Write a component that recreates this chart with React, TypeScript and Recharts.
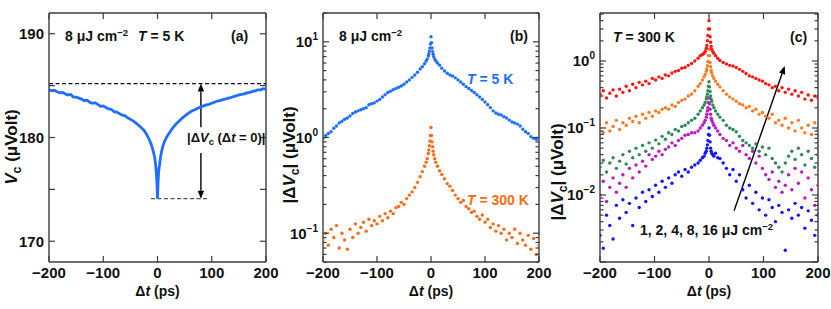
import React from 'react'
import {
  ComposedChart,
  ScatterChart,
  Line,
  Scatter,
  XAxis,
  YAxis,
  ReferenceLine,
} from 'recharts'

const FONT = '"Liberation Sans", Arial, Helvetica, sans-serif'
const FRAME = '#3c3c3c'

const BLUE = '#1f6fff'
const ORANGE = '#ff6a14'
const C_RED = '#ff1414'
const C_ORANGE = '#ff7a22'
const C_GREEN = '#2e8b57'
const C_MAGENTA = '#c316c3'
const C_BLUE = '#1414ff'

// (a) Vc vs delay, 8 uJ cm-2, T = 5 K
const aTimes = [
  -200, -195, -190, -185, -180, -175, -170, -165, -160, -155, -150, -145, -140, -135, -130, -125, -120,
  -115, -110, -105, -100, -95, -90, -85, -80, -75, -70, -65, -60, -55, -50, -45, -40, -35, -30, -25, -20,
  -16, -12, -9, -7, -5, -4, -3, -2, -1, 0, 1, 2, 3, 4, 5, 7, 9, 12, 16,
  20, 25, 30, 35, 40, 45, 50, 55, 60, 65, 70, 75, 80, 85, 90, 95, 100, 105, 110, 115, 120, 125, 130,
  135, 140, 145, 150, 155, 160, 165, 170, 175, 180, 185, 190, 195, 200,
]
const aVc = [
  184.6, 184.5, 184.55, 184.4, 184.3, 184.35, 184.2, 184.1, 184.15, 183.9, 183.9, 183.8, 183.7, 183.55,
  183.6, 183.4, 183.3, 183.35, 183.2, 183.0, 183.05, 182.9, 182.75, 182.7, 182.5, 182.45, 182.3, 182.15,
  182.1, 181.9, 181.75, 181.6, 181.4, 181.2, 180.95, 180.7, 180.3,
  179.9, 179.4, 178.9, 178.5, 178.0, 177.6, 177.1, 176.5, 175.6, 174.1, 175.7, 176.6, 177.1, 177.4, 177.9,
  178.5, 179.0, 179.5, 179.95,
  180.3, 180.7, 181.05, 181.35, 181.6, 181.85, 182.05, 182.25, 182.45, 182.6, 182.7, 182.85, 182.95,
  183.05, 183.15, 183.2, 183.3, 183.4, 183.5, 183.55, 183.65, 183.7, 183.8, 183.85, 183.95, 184.0, 184.1,
  184.15, 184.2, 184.3, 184.35, 184.45, 184.5, 184.6, 184.6, 184.7, 184.65,
]

// (b) |dVc| at 8 uJ cm-2, T = 5 K and 300 K
const bTimes = [
  -200, -195, -190, -185, -180, -175, -170, -165, -160, -155, -150, -145, -140, -135, -130, -125, -120,
  -115, -110, -105, -100, -95, -90, -85, -80, -75, -70, -65, -60, -55, -50, -45, -40, -35, -30, -25, -20,
  -16, -12, -9, -7, -5, -4, -3, -2, -1, 0, 1, 2, 3, 4, 5, 7, 9, 12, 16,
  20, 25, 30, 35, 40, 45, 50, 55, 60, 65, 70, 75, 80, 85, 90, 95, 100, 105, 110, 115, 120, 125, 130,
  135, 140, 145, 150, 155, 160, 165, 170, 175, 180, 185, 190, 195, 200,
]
const b5K = [
  0.98, 1.05, 1.1, 1.15, 1.25, 1.32, 1.42, 1.48, 1.55, 1.6, 1.68, 1.78, 1.85, 1.9, 1.95, 2.0, 2.05, 2.2,
  2.25, 2.3, 2.4, 2.5, 2.65, 2.8, 2.95, 3.05, 3.15, 3.25, 3.35, 3.45, 3.6, 3.8, 4.0, 4.25, 4.5, 4.8, 5.2,
  5.5, 5.9, 6.3, 6.6, 7.1, 7.5, 8.0, 8.6, 9.5, 11.3, 9.8, 8.6, 7.9, 7.4, 7.0, 6.6, 6.3, 6.0, 5.7,
  5.3, 4.95, 4.7, 4.5, 4.4, 4.2, 4.0, 3.8, 3.6, 3.4, 3.25, 3.1, 2.95, 2.8, 2.65, 2.5, 2.35, 2.2, 2.05,
  1.9, 1.8, 1.75, 1.72, 1.65, 1.6, 1.52, 1.45, 1.42, 1.38, 1.32, 1.22, 1.15, 1.1, 1.02, 0.98, 0.96, 1.0,
]
const b300K = [
  0.085, 0.1, 0.075, 0.11, 0.09, 0.12, 0.07, 0.1, 0.085, 0.068, 0.11, 0.09, 0.125, 0.1, 0.115, 0.13,
  0.105, 0.14, 0.12, 0.135, 0.125, 0.15, 0.135, 0.16, 0.145, 0.17, 0.16, 0.185, 0.19, 0.21, 0.2, 0.23,
  0.25, 0.27, 0.3, 0.34, 0.39,
  0.44, 0.5, 0.55, 0.6, 0.68, 0.74, 0.82, 0.92, 1.05, 1.27, 1.05, 0.9, 0.8, 0.72, 0.66, 0.6, 0.55, 0.5, 0.45,
  0.41, 0.37, 0.33, 0.31, 0.28, 0.25, 0.23, 0.21, 0.22, 0.19, 0.18, 0.165, 0.17, 0.15, 0.14, 0.155, 0.13,
  0.14, 0.115, 0.125, 0.105, 0.12, 0.1, 0.11, 0.085, 0.1, 0.09, 0.11, 0.078, 0.1, 0.085, 0.075, 0.095,
  0.068, 0.088, 0.06, 0.075,
]

// (c) |dVc| at T = 300 K for 16, 8, 4, 2, 1 uJ cm-2
const cTimes = [
  -200, -194, -188, -182, -176, -170, -164, -158, -152, -146, -140, -134, -128, -122, -116, -110, -104,
  -98, -92, -86, -80, -74, -68, -62, -56, -50, -44, -38, -32, -26, -20,
  -16, -12, -9, -7, -5, -4, -3, -2, -1, 0, 1, 2, 3, 4, 5, 7, 9, 12, 16,
  20, 26, 32, 38, 44, 50, 56, 62, 68, 74, 80, 86, 92, 98, 104, 110, 116, 122, 128, 134, 140, 146, 152,
  158, 164, 170, 176, 182, 188, 194, 200,
]
const c16 = [
  0.32, 0.36, 0.28, 0.33, 0.37, 0.3, 0.38, 0.34, 0.42, 0.36, 0.45, 0.4, 0.48, 0.44, 0.5, 0.46, 0.55, 0.52,
  0.58, 0.55, 0.62, 0.6, 0.66, 0.7, 0.72, 0.78, 0.8, 0.86, 0.92, 1.0, 1.1,
  1.2, 1.25, 1.3, 1.4, 1.55, 1.7, 2.0, 2.4, 3.0, 4.0, 3.0, 2.3, 1.9, 1.65, 1.5, 1.38, 1.3, 1.2, 1.1,
  1.02, 0.95, 0.9, 0.86, 0.84, 0.8, 0.75, 0.7, 0.65, 0.6, 0.58, 0.55, 0.52, 0.5, 0.46, 0.44, 0.4, 0.42,
  0.36, 0.4, 0.34, 0.38, 0.32, 0.36, 0.3, 0.34, 0.27, 0.31, 0.26, 0.3, 0.28,
]
const c8 = [
  0.1, 0.085, 0.12, 0.09, 0.105, 0.13, 0.095, 0.12, 0.11, 0.14, 0.125, 0.15, 0.12, 0.16, 0.14, 0.17, 0.15,
  0.18, 0.17, 0.19, 0.2, 0.19, 0.22, 0.21, 0.24, 0.26, 0.27, 0.3, 0.32, 0.36, 0.42,
  0.46, 0.52, 0.58, 0.63, 0.7, 0.76, 0.85, 0.98, 1.2, 1.5, 1.2, 0.95, 0.82, 0.72, 0.66, 0.6, 0.55, 0.5, 0.45,
  0.41, 0.36, 0.32, 0.29, 0.27, 0.25, 0.23, 0.22, 0.2, 0.21, 0.18, 0.19, 0.16, 0.17, 0.15, 0.14, 0.16,
  0.12, 0.13, 0.11, 0.14, 0.1, 0.12, 0.09, 0.13, 0.1, 0.085, 0.11, 0.08, 0.12, 0.095,
]
const c4 = [
  0.026, 0.033, 0.022, 0.03, 0.036, 0.025, 0.032, 0.04, 0.029, 0.045, 0.036, 0.05, 0.04, 0.055, 0.045,
  0.06, 0.05, 0.066, 0.058, 0.075, 0.068, 0.085, 0.08, 0.095, 0.09, 0.105, 0.11, 0.12, 0.13, 0.14, 0.16,
  0.18, 0.2, 0.22, 0.24, 0.27, 0.29, 0.32, 0.36, 0.42, 0.49, 0.41, 0.35, 0.3, 0.27, 0.25, 0.22, 0.2, 0.18, 0.16,
  0.145, 0.13, 0.11, 0.1, 0.095, 0.088, 0.075, 0.065, 0.06, 0.055, 0.05, 0.058, 0.045, 0.052, 0.04, 0.05,
  0.035, 0.03, 0.026, 0.022, 0.03, 0.038, 0.045, 0.034, 0.05, 0.04, 0.028, 0.045, 0.035, 0.026, 0.04,
]
const c2 = [
  0.01, 0.016, 0.008, 0.013, 0.018, 0.011, 0.015, 0.02, 0.013, 0.025, 0.018, 0.028, 0.022, 0.032, 0.027,
  0.04, 0.034, 0.038, 0.045, 0.04, 0.048, 0.052, 0.06, 0.055, 0.065, 0.07, 0.078, 0.08, 0.085, 0.085, 0.09,
  0.1, 0.11, 0.12, 0.13, 0.145, 0.16, 0.18, 0.2, 0.24, 0.28, 0.23, 0.19, 0.16, 0.14, 0.13, 0.12, 0.11, 0.1, 0.09,
  0.08, 0.07, 0.065, 0.055, 0.06, 0.05, 0.045, 0.055, 0.04, 0.035, 0.045, 0.03, 0.038, 0.025, 0.02, 0.017,
  0.022, 0.013, 0.016, 0.011, 0.014, 0.02, 0.012, 0.025, 0.015, 0.022, 0.009, 0.018, 0.012, 0.007, 0.014,
]
const c1 = [
  0.0025, 0.0016, 0.005, 0.0035, 0.0022, 0.007, 0.0045, 0.0085, 0.0055, 0.0075, 0.0035, 0.009, 0.0065,
  0.011, 0.008, 0.012, 0.0095, 0.014, 0.011, 0.016, 0.013, 0.018, 0.015, 0.02, 0.022, 0.019, 0.024, 0.022,
  0.026, 0.028, 0.03,
  0.033, 0.036, 0.038, 0.042, 0.045, 0.05, 0.056, 0.065, 0.08, 0.1, 0.078, 0.062, 0.05, 0.045, 0.042, 0.04,
  0.038, 0.042, 0.036,
  0.035, 0.03, 0.025, 0.02, 0.024, 0.016, 0.02, 0.012, 0.009, 0.014, 0.0075, 0.011, 0.006, 0.009, 0.005,
  0.0085, 0.0065, 0.004, 0.007, 0.0055, 0.0015, 0.006, 0.0045, 0.0075, 0.005, 0.0065, 0.0032, 0.0058,
  0.0042, 0.0025, 0.005,
]

const xTicks = [-200, -100, 0, 100, 200]
const aYTicks = [170, 175, 180, 185, 190]
const aYLabels = [170, 180, 190]

const PLOT_H = 249

const pts = (ts: number[], vs: number[]) => ts.map((t, i) => ({ t, v: vs[i] }))

const logTicks = (lo: number, hi: number) => {
  const out: number[] = []
  for (let e = -4; e <= 2; e++) {
    for (let m = 1; m <= 9; m++) {
      const v = m * Math.pow(10, e)
      if (v >= lo * 0.999 && v <= hi * 1.001) out.push(v)
    }
  }
  return out
}
const isDecade = (v: number) => Math.abs(Math.log10(v) - Math.round(Math.log10(v))) < 1e-6

const textStyle = { fontFamily: FONT, fontWeight: 700, fontSize: 15, fill: '#111' }

// ticks point inward; the mirrored tick on the opposite side of the box is drawn too
const leftTick =
  (plotW: number, isMajor: (v: number) => boolean, label: (v: number) => React.ReactNode) => (p: any) => {
    const x = Number(p.x)
    const y = Number(p.y)
    const v = p.payload.value as number
    const len = isMajor(v) ? 6 : 3.5
    const lab = label(v)
    return (
      <g>
        <line x1={x} y1={y} x2={x + len} y2={y} stroke={FRAME} strokeWidth={1.2} />
        <line x1={x + plotW} y1={y} x2={x + plotW - len} y2={y} stroke={FRAME} strokeWidth={1.2} />
        {lab != null && (
          <text x={x - 5} y={y} dy="0.36em" textAnchor="end" {...textStyle}>
            {lab}
          </text>
        )}
      </g>
    )
  }

const bottomTick = (p: any) => {
  const x = Number(p.x)
  const y = Number(p.y)
  const v = p.payload.value as number
  return (
    <g>
      <line x1={x} y1={y} x2={x} y2={y - 6} stroke={FRAME} strokeWidth={1.2} />
      <line x1={x} y1={y - PLOT_H} x2={x} y2={y - PLOT_H + 6} stroke={FRAME} strokeWidth={1.2} />
      <text x={x} y={y + 5} dy="0.76em" textAnchor="middle" {...textStyle}>
        {v < 0 ? `\u2212${-v}` : `${v}`}
      </text>
    </g>
  )
}

const fmtLog = (v: number) => {
  if (!isDecade(v)) return null
  const e = Math.round(Math.log10(v))
  return (
    <>
      <tspan>10</tspan>
      <tspan dy={-7} fontSize={10}>
        {e < 0 ? `\u2212${-e}` : `${e}`}
      </tspan>
    </>
  )
}

const axisLine = { stroke: FRAME, strokeWidth: 1.4 }

const arrowShape = (p: any) => {
  const { x1, y1, x2, y2 } = p
  const a = Math.atan2(y2 - y1, x2 - x1)
  const L = 8
  const W = 3.2
  const bx = x2 - L * Math.cos(a)
  const by = y2 - L * Math.sin(a)
  const head = `${x2},${y2} ${bx - W * Math.sin(a)},${by + W * Math.cos(a)} ${bx + W * Math.sin(a)},${by - W * Math.cos(a)}`
  return (
    <g>
      <line x1={x1} y1={y1} x2={bx} y2={by} stroke="#000" strokeWidth={1.4} />
      <polygon points={head} fill="#000" />
    </g>
  )
}

const dot = (color: string) => (p: any) => <circle cx={p.cx} cy={p.cy} r={1.7} fill={color} />

const MARGIN_TB = { top: 13, bottom: 17 }

const xAxisEl = (
  <XAxis
    dataKey="t"
    type="number"
    domain={[-200, 200]}
    ticks={xTicks}
    interval={0}
    allowDataOverflow
    tickSize={0}
    tickMargin={0}
    tickLine={false}
    axisLine={axisLine}
    height={30}
    tick={bottomTick}
  />
)

const yAxisEl = (
  plotW: number,
  yDomain: number[],
  yTicks: number[],
  log: boolean,
  yMajor: (v: number) => boolean,
  yLabel: (v: number) => React.ReactNode,
) => (
  <YAxis
    dataKey="v"
    type="number"
    scale={log ? 'log' : 'auto'}
    domain={yDomain}
    ticks={yTicks}
    interval={0}
    allowDataOverflow
    tickSize={0}
    tickMargin={0}
    tickLine={false}
    axisLine={axisLine}
    width={40}
    tick={leftTick(plotW, yMajor, yLabel)}
  />
)

// top and right edges of the box
const frameLines = (yTop: number) => [
  <ReferenceLine key="fr" x={200} stroke={FRAME} strokeWidth={1.4} ifOverflow="visible" />,
  <ReferenceLine key="ft" y={yTop} stroke={FRAME} strokeWidth={1.4} ifOverflow="visible" />,
]

const Txt = ({
  x,
  y,
  children,
  color = '#111',
  size = 14,
  rotate = false,
  center = false,
}: {
  x: number
  y: number
  children: React.ReactNode
  color?: string
  size?: number
  rotate?: boolean
  center?: boolean
}) => (
  <div
    style={{
      position: 'absolute',
      left: x,
      top: y,
      transform: `translate(${center || rotate ? '-50%' : '0'}, -50%)${rotate ? ' rotate(-90deg)' : ''}`,
      fontFamily: FONT,
      fontWeight: 700,
      fontSize: size,
      color,
      whiteSpace: 'nowrap',
      lineHeight: 1,
    }}
  >
    {children}
  </div>
)

const Sup = ({ children }: { children: React.ReactNode }) => (
  <span style={{ fontSize: '0.68em', position: 'relative', top: '-0.55em' }}>{children}</span>
)
const Sub = ({ children }: { children: React.ReactNode }) => (
  <span style={{ fontSize: '0.72em', position: 'relative', top: '0.3em' }}>{children}</span>
)

export default function App() {
  const aData = pts(aTimes, aVc)
  const bLog = logTicks(0.05, 20)
  const cLog = logTicks(0.001, 5.2)
  return (
    <div style={{ position: 'absolute', left: 0, top: 0, width: 831, height: 309, background: '#fff', overflow: 'hidden' }}>
      <div style={{ position: 'absolute', left: 0, top: 0 }}>
        <ComposedChart width={280} height={309} data={aData} margin={{ ...MARGIN_TB, left: 9, right: 14 }}>
          {xAxisEl}
          {yAxisEl(217, [168, 192], aYTicks, false, () => true, (v) => (aYLabels.includes(v) ? `${v}` : null))}
          {frameLines(192)}
          <ReferenceLine y={185.2} stroke="#111" strokeDasharray="4 2.5" strokeWidth={1.2} />
          <ReferenceLine
            segment={[
              { x: -12, y: 174.1 },
              { x: 93, y: 174.1 },
            ]}
            stroke="#555"
            strokeDasharray="4 2.5"
            strokeWidth={1.2}
          />
          <ReferenceLine
            segment={[
              { x: 80, y: 181.0 },
              { x: 80, y: 185.2 },
            ]}
            shape={arrowShape}
          />
          <ReferenceLine
            segment={[
              { x: 80, y: 178.5 },
              { x: 80, y: 174.1 },
            ]}
            shape={arrowShape}
          />
          <Line dataKey="v" type="linear" stroke={BLUE} strokeWidth={2.8} dot={false} isAnimationActive={false} />
        </ComposedChart>
      </div>

      <div style={{ position: 'absolute', left: 280, top: 0 }}>
        <ScatterChart width={280} height={309} margin={{ ...MARGIN_TB, left: 3, right: 21 }}>
          {xAxisEl}
          {yAxisEl(216, [0.05, 20], bLog, true, isDecade, fmtLog)}
          {frameLines(20)}
          <Scatter data={pts(bTimes, b5K)} fill={BLUE} shape={dot(BLUE)} isAnimationActive={false} />
          <Scatter data={pts(bTimes, b300K)} fill={ORANGE} shape={dot(ORANGE)} isAnimationActive={false} />
        </ScatterChart>
      </div>

      <div style={{ position: 'absolute', left: 552, top: 0 }}>
        <ScatterChart width={279} height={309} margin={{ ...MARGIN_TB, left: 8, right: 13 }}>
          {xAxisEl}
          {yAxisEl(218, [0.001, 5.2], cLog, true, isDecade, (v) => (v < 0.005 ? null : fmtLog(v)))}
          {frameLines(5.2)}
          <Scatter data={pts(cTimes, c1)} fill={C_BLUE} shape={dot(C_BLUE)} isAnimationActive={false} />
          <Scatter data={pts(cTimes, c2)} fill={C_MAGENTA} shape={dot(C_MAGENTA)} isAnimationActive={false} />
          <Scatter data={pts(cTimes, c4)} fill={C_GREEN} shape={dot(C_GREEN)} isAnimationActive={false} />
          <Scatter data={pts(cTimes, c8)} fill={C_ORANGE} shape={dot(C_ORANGE)} isAnimationActive={false} />
          <Scatter data={pts(cTimes, c16)} fill={C_RED} shape={dot(C_RED)} isAnimationActive={false} />
          <ReferenceLine
            segment={[
              { x: 46, y: 0.0058 },
              { x: 139, y: 0.84 },
            ]}
            shape={arrowShape}
          />
        </ScatterChart>
      </div>

      {/* panel (a) text */}
      <Txt x={65} y={36}>
        8 μJ cm<Sup>−2</Sup>
      </Txt>
      <Txt x={138} y={36}>
        <i>T</i> = 5 K
      </Txt>
      <Txt x={231} y={36}>(a)</Txt>
      <Txt x={187} y={138} size={13}>
        |Δ<i>V</i>
        <Sub>c</Sub> (Δ<i>t</i> = 0)|
      </Txt>
      <Txt x={11} y={147} rotate size={17}>
        <i>V</i>
        <Sub>c</Sub> (μVolt)
      </Txt>
      <Txt x={157.5} y={291} center size={14}>
        Δ<i>t</i> (ps)
      </Txt>

      {/* panel (b) text */}
      <Txt x={339} y={36}>
        8 μJ cm<Sup>−2</Sup>
      </Txt>
      <Txt x={510} y={36}>(b)</Txt>
      <Txt x={467} y={79} color={BLUE} size={14}>
        <i>T</i> = 5 K
      </Txt>
      <Txt x={467} y={200} color={ORANGE} size={14}>
        <i>T</i> = 300 K
      </Txt>
      <Txt x={289} y={155} rotate size={17}>
        |Δ<i>V</i>
        <Sub>c</Sub>| (μVolt)
      </Txt>
      <Txt x={431} y={291} center size={14}>
        Δ<i>t</i> (ps)
      </Txt>

      {/* panel (c) text */}
      <Txt x={613} y={37}>
        <i>T</i> = 300 K
      </Txt>
      <Txt x={790} y={37}>(c)</Txt>
      <Txt x={640} y={230}>
        1, 2, 4, 8, 16 μJ cm<Sup>−2</Sup>
      </Txt>
      <Txt x={557} y={172} rotate size={17}>
        |Δ<i>V</i>
        <Sub>c</Sub>| (μVolt)
      </Txt>
      <Txt x={709} y={291} center size={14}>
        Δ<i>t</i> (ps)
      </Txt>
    </div>
  )
}
